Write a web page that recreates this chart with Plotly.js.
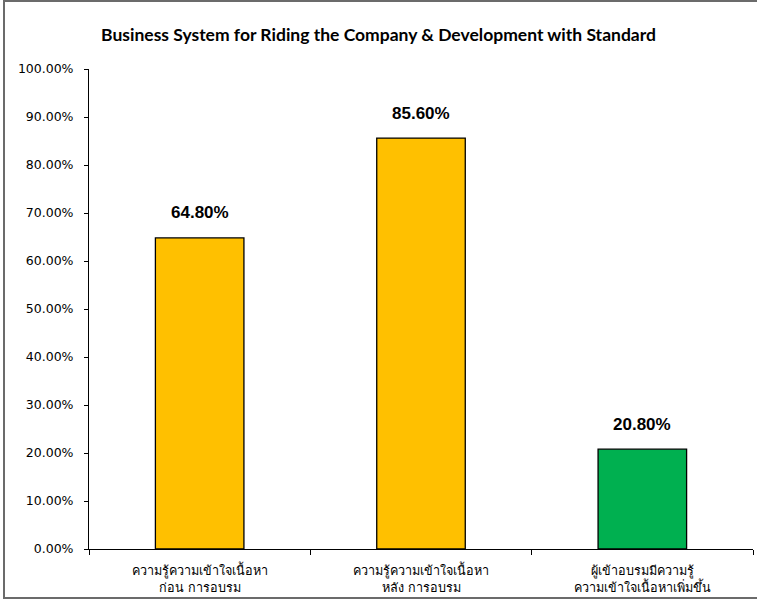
<!DOCTYPE html>
<html>
<head>
<meta charset="utf-8">
<script src="https://cdn.plot.ly/plotly-3.0.1.min.js"></script>
<style>
html,body{margin:0;padding:0;background:#fff;}
#wrap{position:absolute;left:3px;top:0px;width:760px;height:599px;border-left:2px solid #6b6b6b;border-top:2px solid #6b6b6b;border-bottom:2px solid #6b6b6b;box-sizing:border-box;}
#chart{position:absolute;left:0;top:0;width:757px;height:603px;}
</style>
</head>
<body>
<div id="wrap"></div>
<div id="chart"></div>
<script>
var categories = ["ความรู้ความเข้าใจเนื้อหา<br>ก่อน การอบรม", "ความรู้ความเข้าใจเนื้อหา<br>หลัง การอบรม", "ผู้เข้าอบรมมีความรู้<br>ความเข้าใจเนื้อหาเพิ่มขึ้น"];
var values = [0.648, 0.856, 0.208];
var labels = ["64.80%", "85.60%", "20.80%"];
var colors = ["#FFC000", "#FFC000", "#00B050"];
var yTicks = [0, 0.1, 0.2, 0.3, 0.4, 0.5, 0.6, 0.7, 0.8, 0.9, 1.0];

var trace = {
  type: "bar",
  x: categories,
  y: values,
  marker: {color: colors, line: {color: "#000000", width: 1.3}},
  hoverinfo: "none"
};

var annotations = categories.map(function(c, i){
  return {x: c, y: values[i], text: labels[i], showarrow: false, yshift: 25, xref: "x", yref: "y",
          font: {family: "Liberation Sans, Arial, sans-serif", size: 17, color: "#000", weight: "bold"}};
});

var layout = {
  width: 757, height: 603,
  margin: {l: 89, r: 4, t: 69, b: 54},
  paper_bgcolor: "rgba(0,0,0,0)",
  plot_bgcolor: "rgba(0,0,0,0)",
  showlegend: false,
  bargap: 0.6,
  title: {text: "<b>Business System for Riding the Company & Development with Standard</b>", x: 0.5, xanchor: "center", y: 0.942, yanchor: "middle",
          font: {family: "Lato, Carlito, Calibri, sans-serif", size: 17.5, color: "#000"}},
  xaxis: {
    type: "category",
    showline: true, linecolor: "#000", linewidth: 1,
    ticks: "outside", ticklen: 5, tickcolor: "#000", tickson: "boundaries",
    ticklabelstandoff: 10,
    tickfont: {family: "DejaVu Sans, Tahoma, sans-serif", size: 12.6, color: "#000"},
    showgrid: false, zeroline: false, fixedrange: true
  },
  yaxis: {
    range: [0, 1],
    tickvals: yTicks,
    tickformat: ".2%",
    showline: true, linecolor: "#000", linewidth: 1,
    ticks: "outside", ticklen: 4, tickcolor: "#000",
    ticklabelstandoff: 8,
    tickfont: {family: "DejaVu Sans, Tahoma, sans-serif", size: 12.5, color: "#000"},
    showgrid: false, zeroline: false, fixedrange: true
  },
  annotations: annotations
};

Plotly.newPlot("chart", [trace], layout, {displayModeBar: false, staticPlot: true});
</script>
</body>
</html>
